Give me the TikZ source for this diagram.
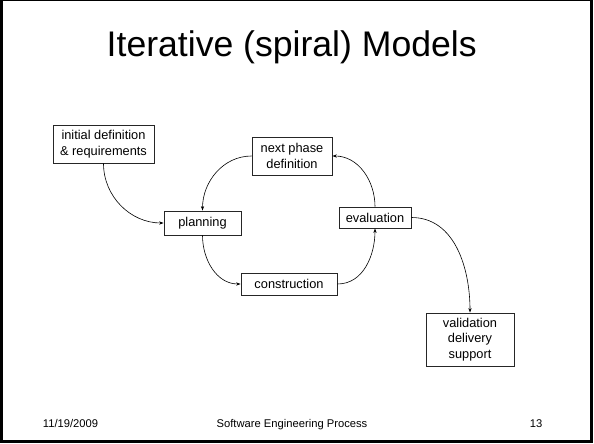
\documentclass[tikz,border=0pt]{standalone}
\usepackage{fontspec}
\setmainfont{Liberation Sans}
\usetikzlibrary{arrows.meta}
\begin{document}
\begin{tikzpicture}[x=1pt,y=-1pt,
  box/.style={draw=black!85,line width=0.8pt,inner sep=0pt,align=center,
    font=\fontsize{12.8}{15.5}\selectfont},
  conn/.style={line width=0.6pt,-{Stealth[length=4.5pt,width=3.2pt]}},
  foot/.style={anchor=base,inner sep=0pt,font=\fontsize{11.2}{13}\selectfont}]
\useasboundingbox (0,0) rectangle (594,444);
% frame
\fill[black] (0,0) rectangle (2.7,443);
\fill[black] (0,0) rectangle (593.3,1);
\fill[black] (590,0) rectangle (593.3,443);
\fill[black] (0,439.5) rectangle (593.3,443);
% title
\node[anchor=base,inner sep=0pt,font=\fontsize{35.6}{40}\selectfont] (title) at (291.7,56.7) {Iterative (spiral) Models};
% boxes
\node[box,minimum width=101pt,minimum height=38pt] (init) at (103.5,144) {initial definition\\ \& requirements};
\node[box,minimum width=77pt,minimum height=24pt] (plan) at (202.5,223) {planning};
\node[box,minimum width=80pt,minimum height=38pt] (next) at (292,156) {next phase\\ definition};
\node[box,minimum width=72pt,minimum height=21pt] (eval) at (375,217.5) {evaluation};
\node[box,minimum width=96pt,minimum height=22pt] (cons) at (289,284) {construction};
\node[box,minimum width=88pt,minimum height=53pt] (valid) at (470,339.5) {validation\\ delivery\\ support};
% connectors
\draw[conn] (init.south) to[out=-90,in=180] (plan.west);
\draw[conn] (next.west) to[out=180,in=90] (plan.north);
\draw[conn] (plan.south) to[out=-90,in=180] (cons.west);
\draw[conn] (cons.east) to[out=0,in=-90] (eval.south);
\draw[conn] (eval.north) to[out=90,in=0] (next.east);
\draw[conn] (eval.east) to[out=0,in=90] (valid.north);
% footer
\node[foot,anchor=base west] (date) at (42.7,427.5) {11/19/2009};
\node[foot] (ftitle) at (292,427.5) {Software Engineering Process};
\node[foot] (page) at (536,427.5) {13};
\end{tikzpicture}
\end{document}
